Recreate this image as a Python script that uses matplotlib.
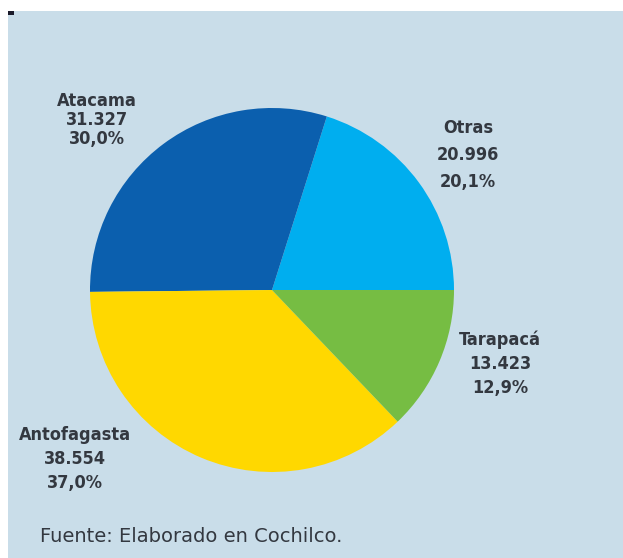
import matplotlib

matplotlib.use("Agg")

import matplotlib.pyplot as plt
from matplotlib.patches import Rectangle

# production by region, wedge order runs counter-clockwise from 3 o'clock
regions = ["Otras", "Atacama", "Antofagasta", "Tarapacá"]
values = [20996, 31327, 38554, 13423]
shares = [20.1, 30.0, 37.0, 12.9]
colors = ["#00aeef", "#0b5fae", "#ffd800", "#76bd43"]

# label anchor per region, in figure pixels (x, y of the top line)
label_px = [(468, 128), (97, 101), (75, 435), (500, 340)]
line_gap = [27, 19, 24, 24]

W, H = 623, 558
BG = "#c9dde9"
TXT = "#333840"

fig = plt.figure(figsize=(W / 100, H / 100), dpi=100)
fig.patch.set_facecolor("white")
fig.add_artist(Rectangle((8 / W, 0), (W - 8) / W, (H - 11) / H, zorder=-2,
                         transform=fig.transFigure, facecolor=BG, edgecolor="none"))
fig.add_artist(Rectangle((8 / W, (H - 15) / H), 6 / W, 4 / H, zorder=-1,
                         transform=fig.transFigure, facecolor="#1a1a2a", edgecolor="none"))

cx, cy, r = 272, 290, 182
ax = fig.add_axes([(cx - r) / W, (H - cy - r) / H, 2 * r / W, 2 * r / H])
ax.pie(values, colors=colors, startangle=0, counterclock=True, radius=1,
       wedgeprops=dict(linewidth=0))
ax.set_xlim(-1, 1)
ax.set_ylim(-1, 1)
ax.set_aspect("equal")
ax.axis("off")


def fmt_int(v):
    return f"{v:,}".replace(",", ".")


lab_font = dict(family="DejaVu Sans", fontstretch="condensed", fontweight="bold",
                fontsize=13, color=TXT, ha="center", va="center")
for name, v, s, (px, py), gap in zip(regions, values, shares, label_px, line_gap):
    lines = [name, fmt_int(v), f"{s:.1f}%".replace(".", ",")]
    for i, line in enumerate(lines):
        fig.text(px / W, 1 - (py + i * gap) / H, line, **lab_font)

fig.text(40 / W, 1 - 537 / H, "Fuente: Elaborado en Cochilco.", family="DejaVu Sans",
         fontsize=14, color=TXT, ha="left", va="center")

fig.savefig("out.png", dpi=100, facecolor=fig.get_facecolor())
